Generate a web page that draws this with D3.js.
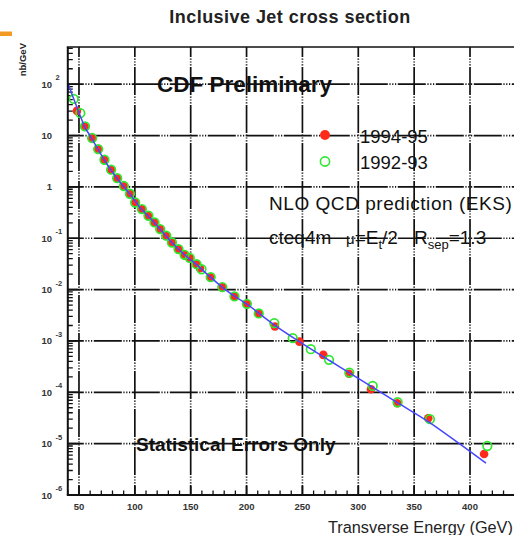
<!DOCTYPE html>
<html>
<head>
<meta charset="utf-8">
<script src="https://cdn.jsdelivr.net/npm/d3@7"></script>
<style>
  html, body { margin: 0; padding: 0; background: #fff; }
  svg { display: block; font-family: "Liberation Sans", Arial, Helvetica, sans-serif; }
</style>
</head>
<body>
<svg id="chart" width="514" height="535"></svg>
<script>
// Inclusive jet cross section, d(sigma)/dEt in nb/GeV versus transverse energy.

// NLO QCD prediction (EKS, cteq4m, mu = Et/2, Rsep = 1.3)
const nloEt = [40.8, 45, 50, 55, 60, 67, 75, 85, 95, 105, 115, 125, 135, 145, 155, 165,
               180, 200, 225, 250, 275, 300, 335, 362.6, 391.1, 414.3];
const nloValues = [96.8, 53.7, 28.2, 14.96, 9.89, 5.42, 2.79, 1.38, 0.750, 0.389, 0.231,
                   0.1306, 0.0745, 0.0466, 0.0310, 0.0197, 0.01035, 0.00525, 0.00204,
                   0.000891, 0.000407, 0.000186, 6.31e-5, 2.69e-5, 9.75e-6, 4.16e-6];

// Run 1994-95 data
const run9495Et = [48.2, 55.1, 61.6, 67.0, 72.6, 78.6, 84.0, 90.0, 95.4, 100.1, 106.1, 112.0,
                   117.4, 122.5, 127.9, 133.0, 138.9, 144.3, 149.2, 155.0, 158.3, 167.7,
                   178.1, 189.0, 200.1, 210.7, 225.4, 247.3, 268.7, 291.7, 311.4, 334.9,
                   362.6, 412.6];
const run9495Values = [30.2, 14.9, 8.87, 5.42, 3.36, 2.14, 1.47, 1.03, 0.731, 0.494, 0.368,
                       0.272, 0.202, 0.150, 0.111, 0.0822, 0.0612, 0.0474, 0.0414, 0.0310,
                       0.0261, 0.0174, 0.01114, 0.00731, 0.00526, 0.00341, 0.00191, 0.00097,
                       0.000535, 0.000229, 0.000115, 6.1e-5, 3.13e-5, 6.3e-6];

// Run 1992-93 data
const run9293Et = [45.3, 51.2, 55.4, 61.8, 67.2, 72.8, 78.8, 84.2, 90.2, 95.6, 100.3, 106.3,
                   112.2, 117.6, 122.7, 128.1, 133.2, 139.1, 144.5, 149.2, 155.2, 159.7,
                   167.9, 178.3, 189.2, 200.3, 210.9, 224.8, 241.3, 257.5, 273.8, 292.0,
                   312.9, 335.2, 364.1, 415.5];
const run9293Values = [51.7, 27.2, 15.1, 8.95, 5.45, 3.38, 2.16, 1.48, 1.04, 0.735, 0.497,
                       0.370, 0.274, 0.203, 0.151, 0.112, 0.0826, 0.0615, 0.0476, 0.0414,
                       0.0312, 0.0249, 0.0175, 0.0112, 0.00735, 0.00528, 0.00343, 0.00222,
                       0.001133, 0.00069, 0.000428, 0.000242, 0.000133, 6.4e-5, 3.0e-5, 9.0e-6];

// Axis ticks
const xTickValues = [50, 100, 150, 200, 250, 300, 350, 400];
const xTickLabels = ["50", "100", "150", "200", "250", "300", "350", "400"];
const yDecadeExponents = [-6, -5, -4, -3, -2, -1, 0, 1, 2];

const svg = d3.select("#chart");

const plotLeft = 67.8, plotRight = 514.7, plotTop = 47, plotBottom = 495;
const x = d3.scaleLinear().domain([40, 440]).range([plotLeft, plotRight]);
const y = d3.scaleLog().domain([1e-6, 530]).range([plotBottom, plotTop]);

// small orange slide accent
svg.append("rect").attr("x", 0).attr("y", 31.5).attr("width", 12).attr("height", 4.5)
  .attr("fill", "#f39a24");

// title
svg.append("text").attr("x", 290).attr("y", 22.5).attr("text-anchor", "middle")
  .attr("font-size", 18).attr("font-weight", "bold").attr("fill", "#222")
  .attr("letter-spacing", 0.45)
  .text("Inclusive Jet cross section");

const defs = svg.append("defs");
defs.append("clipPath").attr("id", "plotClip")
  .append("rect").attr("x", plotLeft).attr("y", plotTop)
  .attr("width", plotRight - plotLeft).attr("height", plotBottom - plotTop);

const plot = svg.append("g").attr("clip-path", "url(#plotClip)");

// grid: dash with three dots
const gridDash = "28,1.6,1.2,1.6,1.2,1.6,1.2,1.6";
plot.append("g").selectAll("line").data(yDecadeExponents.filter(e => e > -6))
  .join("line")
  .attr("x1", plotLeft).attr("x2", plotRight)
  .attr("y1", e => y(Math.pow(10, e))).attr("y2", e => y(Math.pow(10, e)))
  .attr("stroke", "#111").attr("stroke-width", 1.7)
  .attr("stroke-dasharray", gridDash).attr("stroke-dashoffset", 12);
plot.append("g").selectAll("line").data(xTickValues)
  .join("line")
  .attr("x1", d => x(d)).attr("x2", d => x(d))
  .attr("y1", plotBottom).attr("y2", plotTop)
  .attr("stroke", "#111").attr("stroke-width", 1.7)
  .attr("stroke-dasharray", gridDash).attr("stroke-dashoffset", 18);

// y minor ticks (inside, from the left axis)
const yMinor = [];
for (let e = -6; e <= 2; e++) {
  for (let m = 2; m <= 9; m++) {
    const v = m * Math.pow(10, e);
    if (v <= 530) yMinor.push(v);
  }
}
plot.append("g").selectAll("line").data(yMinor).join("line")
  .attr("x1", plotLeft).attr("x2", plotLeft + 5)
  .attr("y1", d => y(d)).attr("y2", d => y(d))
  .attr("stroke", "#111").attr("stroke-width", 1.3);
plot.append("g").selectAll("line").data(yDecadeExponents).join("line")
  .attr("x1", plotLeft).attr("x2", plotLeft + 10)
  .attr("y1", e => y(Math.pow(10, e))).attr("y2", e => y(Math.pow(10, e)))
  .attr("stroke", "#111").attr("stroke-width", 1.6);

// x minor ticks
const xMinor = d3.range(40, 441, 10).filter(v => v % 50 !== 0);
plot.append("g").selectAll("line").data(xMinor).join("line")
  .attr("x1", d => x(d)).attr("x2", d => x(d))
  .attr("y1", plotBottom).attr("y2", plotBottom - 4.5)
  .attr("stroke", "#111").attr("stroke-width", 1.3);
plot.append("g").selectAll("line").data(xTickValues).join("line")
  .attr("x1", d => x(d)).attr("x2", d => x(d))
  .attr("y1", plotBottom).attr("y2", plotBottom - 9)
  .attr("stroke", "#111").attr("stroke-width", 1.6);

// frame
svg.append("line").attr("x1", plotLeft).attr("x2", plotLeft).attr("y1", plotTop).attr("y2", plotBottom)
  .attr("stroke", "#111").attr("stroke-width", 2);
svg.append("line").attr("x1", plotLeft - 1).attr("x2", 514).attr("y1", plotBottom).attr("y2", plotBottom)
  .attr("stroke", "#111").attr("stroke-width", 2);
svg.append("line").attr("x1", plotLeft - 1).attr("x2", 514).attr("y1", plotTop).attr("y2", plotTop)
  .attr("stroke", "#111").attr("stroke-width", 1.6);

// x tick labels
svg.append("g").selectAll("text").data(xTickValues).join("text")
  .attr("x", d => x(d)).attr("y", 510)
  .attr("text-anchor", "middle").attr("font-size", 9.5).attr("font-weight", "bold")
  .attr("fill", "#333")
  .text((d, i) => xTickLabels[i]);

// y tick labels: 10 with superscript exponent
const yLab = svg.append("g").attr("fill", "#333").attr("font-weight", "bold");
yDecadeExponents.forEach(e => {
  const yy = y(Math.pow(10, e));
  yLab.append("text").attr("x", 52).attr("y", yy + 3.5)
    .attr("text-anchor", "end").attr("font-size", 9.5)
    .text(e === 0 ? "1" : "10");
  if (e !== 0 && e !== 1) {
    yLab.append("text").attr("x", 55.5).attr("y", yy - 4)
      .attr("font-size", 7.5)
      .text(String(e));
  }
});

// axis titles
svg.append("text").attr("x", 328).attr("y", 533)
  .attr("font-size", 16.3).attr("fill", "#222")
  .text("Transverse Energy  (GeV)");
svg.append("text").attr("transform", "translate(26,43) rotate(-90)")
  .attr("text-anchor", "end").attr("font-size", 9.5).attr("font-weight", "bold").attr("fill", "#222")
  .text("nb/GeV");

// data markers
const soft = defs.append("filter").attr("id", "soft");
soft.append("feGaussianBlur").attr("stdDeviation", 0.45);

const marks = plot.append("g").attr("filter", "url(#soft)");
marks.selectAll("circle.r94").data(run9495Et.map((e, i) => [e, run9495Values[i]]))
  .join("circle").attr("class", "r94")
  .attr("cx", d => x(d[0])).attr("cy", d => y(d[1])).attr("r", 4.3)
  .attr("fill", "#ff2a1a");
marks.selectAll("circle.r92").data(run9293Et.map((e, i) => [e, run9293Values[i]]))
  .join("circle").attr("class", "r92")
  .attr("cx", d => x(d[0])).attr("cy", d => y(d[1])).attr("r", 4.3)
  .attr("fill", "none").attr("stroke", "#2fe82f").attr("stroke-width", 1.7);

// NLO curve
const nloLine = d3.line().x(d => x(d[0])).y(d => y(d[1])).curve(d3.curveMonotoneX);
plot.append("path").datum(nloEt.map((e, i) => [e, nloValues[i]]))
  .attr("d", nloLine).attr("fill", "none")
  .attr("stroke", "#4646ff").attr("stroke-width", 1.5);

// annotations
svg.append("text").attr("x", 157).attr("y", 92)
  .attr("font-size", 22.5).attr("font-weight", "bold").attr("fill", "#111")
  .text("CDF Preliminary");

svg.append("circle").attr("cx", 325).attr("cy", 135).attr("r", 5).attr("fill", "#ff2a1a");
svg.append("circle").attr("cx", 325).attr("cy", 161.5).attr("r", 4.6)
  .attr("fill", "none").attr("stroke", "#2fe82f").attr("stroke-width", 1.6);
svg.append("text").attr("x", 360).attr("y", 143).attr("font-size", 18.5).attr("fill", "#111")
  .text("1994-95");
svg.append("text").attr("x", 360).attr("y", 169).attr("font-size", 18.5).attr("fill", "#111")
  .text("1992-93");

svg.append("text").attr("x", 269).attr("y", 210).attr("font-size", 19).attr("fill", "#111")
  .attr("letter-spacing", 0.55)
  .text("NLO QCD prediction (EKS)");

// cteq4m  mu=E_t/2  R_sep=1.3
const cteq = svg.append("text").attr("y", 244).attr("font-size", 19).attr("fill", "#111");
cteq.append("tspan").attr("x", 269).text("cteq4m");
cteq.append("tspan").attr("x", 346).attr("font-size", 15).text("μ");
cteq.append("tspan").text("=E");
cteq.append("tspan").attr("font-size", 13).attr("dy", 5).text("t");
cteq.append("tspan").attr("dy", -5).text("/2");
cteq.append("tspan").attr("x", 414).text("R");
cteq.append("tspan").attr("font-size", 13).attr("dy", 5).text("sep");
cteq.append("tspan").attr("dy", -5).text("=1.3");

svg.append("text").attr("x", 136).attr("y", 451)
  .attr("font-size", 19).attr("font-weight", "bold").attr("fill", "#111")
  .text("Statistical Errors Only");
</script>
</body>
</html>
